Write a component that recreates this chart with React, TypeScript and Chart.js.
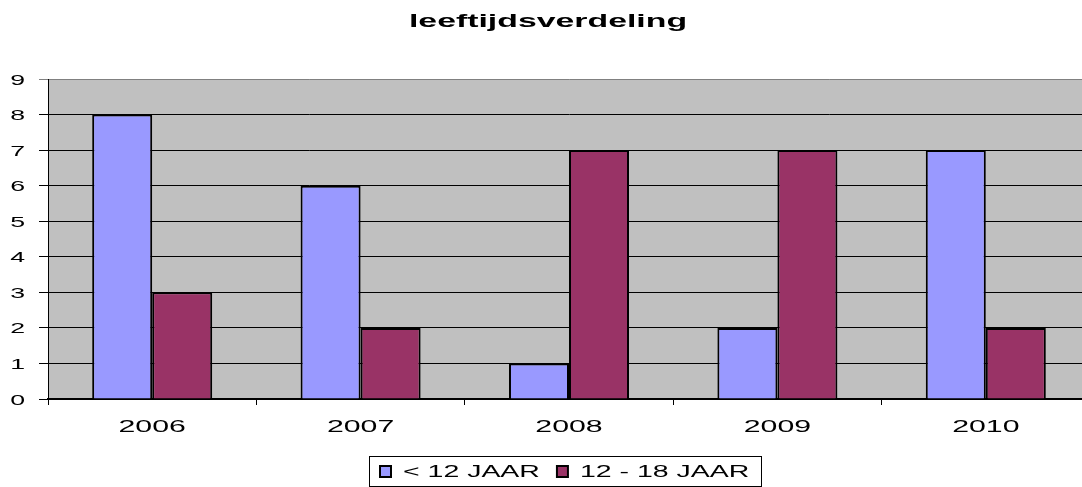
import React, { useEffect, useRef } from "react";
import { Chart, registerables } from "chart.js";

Chart.register(...registerables);

const categories = ["2006", "2007", "2008", "2009", "2010"];
const under12 = [8, 6, 1, 2, 7];
const from12to18 = [3, 2, 7, 7, 2];
const seriesLabels = ["< 12 JAAR", "12 - 18 JAAR"];
const yTicks = [0, 1, 2, 3, 4, 5, 6, 7, 8, 9];
const titleText = "leeftijdsverdeling";

const FONT = "'Liberation Sans', Arial, Helvetica, sans-serif";
const SX = 1.78; // horizontal text stretch seen in the reference

function stretchedText(ctx: any, text: string, x: number, y: number, font: string, align: string, baseline: string) {
  ctx.save();
  ctx.font = font;
  ctx.fillStyle = "#000";
  ctx.textAlign = align;
  ctx.textBaseline = baseline;
  ctx.translate(x, y);
  ctx.scale(SX, 1);
  ctx.fillText(text, 0, 0);
  ctx.restore();
}

const bgPlugin = {
  id: "plotBg",
  beforeDraw(chart: any) {
    const { ctx, chartArea } = chart;
    ctx.save();
    ctx.fillStyle = "#C0C0C0";
    ctx.fillRect(chartArea.left, chartArea.top, chartArea.right - chartArea.left, chartArea.bottom - chartArea.top);
    ctx.restore();
  },
};

const textPlugin = {
  id: "stretchedTexts",
  afterDraw(chart: any) {
    const { ctx } = chart;
    // title
    stretchedText(ctx, titleText, 548, 27, `bold 19px ${FONT}`, "center", "alphabetic");
    // y tick labels
    const ys = chart.scales.y;
    ys.ticks.forEach((t: any) => {
      const py = ys.getPixelForValue(t.value);
      stretchedText(ctx, String(t.value), 25, py + 5.5, `15px ${FONT}`, "right", "alphabetic");
    });
    // x tick labels
    const xs = chart.scales.x;
    (chart.data.labels as string[]).forEach((lab: string, i: number) => {
      const px = xs.getPixelForValue(i);
      stretchedText(ctx, lab, px, 431.5, `17px ${FONT}`, "center", "alphabetic");
    });
    // legend
    const lfont = `16px ${FONT}`;
    ctx.save();
    ctx.font = lfont;
    const items = chart.data.datasets.map((d: any) => ({
      label: d.label,
      color: d.backgroundColor,
      w: ctx.measureText(d.label).width * SX,
    }));
    ctx.restore();
    const box = 11;
    const gapBoxText = 14;
    const gapItems = 15;
    const padL = 11;
    const padR = 10;
    let total = padL + padR;
    items.forEach((it: any, i: number) => {
      total += box + gapBoxText + it.w + (i < items.length - 1 ? gapItems : 0);
    });
    const cx = 565.5;
    const left = Math.round(cx - total / 2);
    const top = 456;
    const height = 30;
    ctx.save();
    ctx.fillStyle = "#fff";
    ctx.fillRect(left, top, total, height);
    ctx.strokeStyle = "#000";
    ctx.lineWidth = 1;
    ctx.strokeRect(left + 0.5, top + 0.5, Math.round(total), height);
    ctx.restore();
    let x = left + padL;
    const boxTop = 466;
    items.forEach((it: any) => {
      ctx.save();
      ctx.fillStyle = it.color;
      ctx.fillRect(x, boxTop, box, box);
      ctx.strokeStyle = "#000";
      ctx.lineWidth = 2;
      ctx.strokeRect(x, boxTop, box, box);
      ctx.restore();
      stretchedText(ctx, it.label, x + box + gapBoxText - 2, 477, lfont, "left", "alphabetic");
      x += box + gapBoxText + it.w + gapItems;
    });
  },
};

export default function App() {
  const ref = useRef<HTMLCanvasElement | null>(null);

  useEffect(() => {
    document.body.style.overflow = "hidden";
    const canvas = ref.current;
    if (!canvas) return;
    const chart = new Chart(canvas, {
      type: "bar",
      data: {
        labels: categories,
        datasets: [
          {
            label: seriesLabels[0],
            data: under12,
            backgroundColor: "#9999FF",
            borderColor: "#000",
            borderWidth: 2,
            categoryPercentage: 0.576,
            barPercentage: 1,
          },
          {
            label: seriesLabels[1],
            data: from12to18,
            backgroundColor: "#993366",
            borderColor: "#000",
            borderWidth: 2,
            categoryPercentage: 0.576,
            barPercentage: 1,
          },
        ],
      },
      options: {
        responsive: false,
        animation: false,
        devicePixelRatio: 1,
        layout: { padding: { top: 79, left: 0, right: 10, bottom: 0 } },
        plugins: {
          title: { display: false },
          tooltip: { enabled: false },
          legend: { display: false },
        },
        scales: {
          x: {
            afterFit(scale: any) {
              scale.height = 88;
            },
            grid: {
              display: true,
              drawOnChartArea: false,
              offset: true,
              tickLength: 6,
              color: "#000",
            },
            border: { display: true, color: "#000", width: 2 },
            ticks: { display: false },
          },
          y: {
            min: 0,
            max: 9,
            afterFit(scale: any) {
              scale.width = 48;
            },
            afterBuildTicks(scale: any) {
              scale.ticks = yTicks.map((v) => ({ value: v }));
            },
            grid: {
              display: true,
              drawOnChartArea: true,
              tickLength: 9,
              color: (c: any) => (c.tick && c.tick.value === 9 ? "#808080" : "#000"),
              lineWidth: 1,
            },
            border: { display: true, color: "#000", width: 1 },
            ticks: { display: false, stepSize: 1 },
          },
        },
      },
      plugins: [bgPlugin, textPlugin],
    } as any);
    return () => chart.destroy();
  }, []);

  return (
    <div style={{ position: "fixed", left: 0, top: 0, width: 1100, height: 487, overflow: "hidden", background: "#fff" }}>
      <canvas ref={ref} width={1100} height={487} style={{ display: "block" }} />
    </div>
  );
}
